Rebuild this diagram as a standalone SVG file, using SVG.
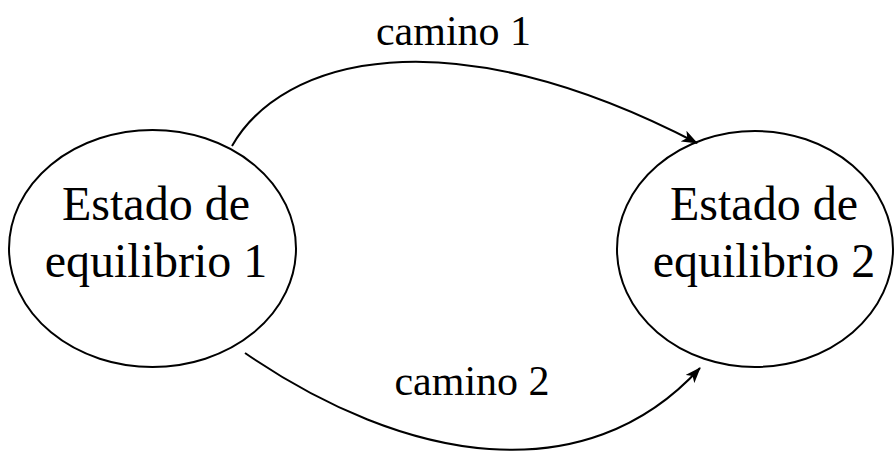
<svg xmlns="http://www.w3.org/2000/svg" width="895" height="453" viewBox="0 0 895 453">
<style>
.node{fill:#fff;stroke:#000;stroke-width:2}
.t{font-family:"Liberation Serif","Times New Roman",serif;font-size:48px;fill:#000;text-anchor:middle}
.lbl{font-family:"Liberation Serif","Times New Roman",serif;font-size:42px;fill:#000;text-anchor:middle}
.edge{fill:none;stroke:#000;stroke-width:2;marker-end:url(#arr)}
</style>
<defs>
<marker id="arr" viewBox="0 0 16 12" refX="15" refY="6" markerWidth="16" markerHeight="12" markerUnits="userSpaceOnUse" orient="auto">
<path d="M0,0 L16,6 L0,12 L4,6 Z" fill="#000"/>
</marker>
</defs>
<g id="n1">
<ellipse class="node" cx="152.5" cy="248.5" rx="143.5" ry="118.5"/>
<text class="t" x="156" y="220">Estado de</text>
<text class="t" x="156" y="277">equilibrio 1</text>
</g>
<g id="n2">
<ellipse class="node" cx="755" cy="249" rx="138" ry="118"/>
<text class="t" x="764" y="220">Estado de</text>
<text class="t" x="764" y="277">equilibrio 2</text>
</g>
<g id="edges">
<path class="edge" d="M232,146 C282,58 447,13 697,143"/>
<path class="edge" d="M245,353 C405,463 585,494 700,368"/>
<text class="lbl" x="453.5" y="45">camino 1</text>
<text class="lbl" x="472" y="395">camino 2</text>
</g>
</svg>
